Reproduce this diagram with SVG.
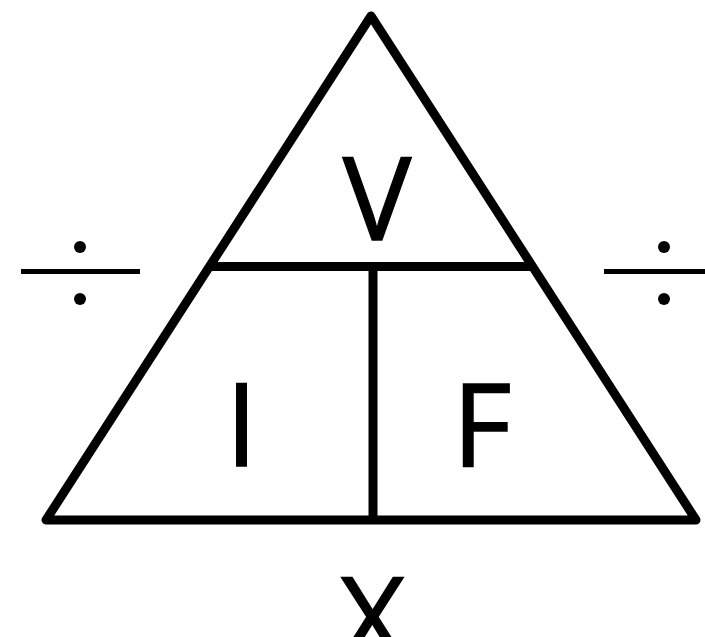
<svg xmlns="http://www.w3.org/2000/svg" width="705" height="637" viewBox="0 0 705 637">
<style>
.ln{fill:none;stroke:#000;stroke-width:9;stroke-linejoin:round;stroke-linecap:butt}
.dv{stroke:#000;stroke-width:5}
.lb{font-family:"Open Sans","Noto Sans",sans-serif;font-size:115px;fill:#000;stroke:#000;stroke-width:1.4;text-anchor:middle}
</style>
<rect width="705" height="637" fill="#fff"/>
<g id="connectors">
<polygon class="ln" points="371,16 46,520 696,520"/>
<line class="ln" x1="209" y1="266.5" x2="533" y2="266.5"/>
<line class="ln" x1="373" y1="266.5" x2="373" y2="520"/>
</g>
<g id="node-V"><text class="lb" x="377" y="240">V</text></g>
<g id="node-I"><text class="lb" x="241.5" y="466">I</text></g>
<g id="node-F"><text class="lb" x="482" y="466">F</text></g>
<g id="node-X"><text class="lb" x="372.5" y="660">X</text></g>
<g id="div-left">
<line class="dv" x1="21" y1="271.5" x2="140" y2="271.5"/>
<circle cx="80" cy="247" r="6"/>
<circle cx="80" cy="299" r="6"/>
</g>
<g id="div-right">
<line class="dv" x1="604" y1="271.5" x2="705" y2="271.5"/>
<circle cx="664" cy="247" r="6"/>
<circle cx="664" cy="299" r="6"/>
</g>
</svg>
